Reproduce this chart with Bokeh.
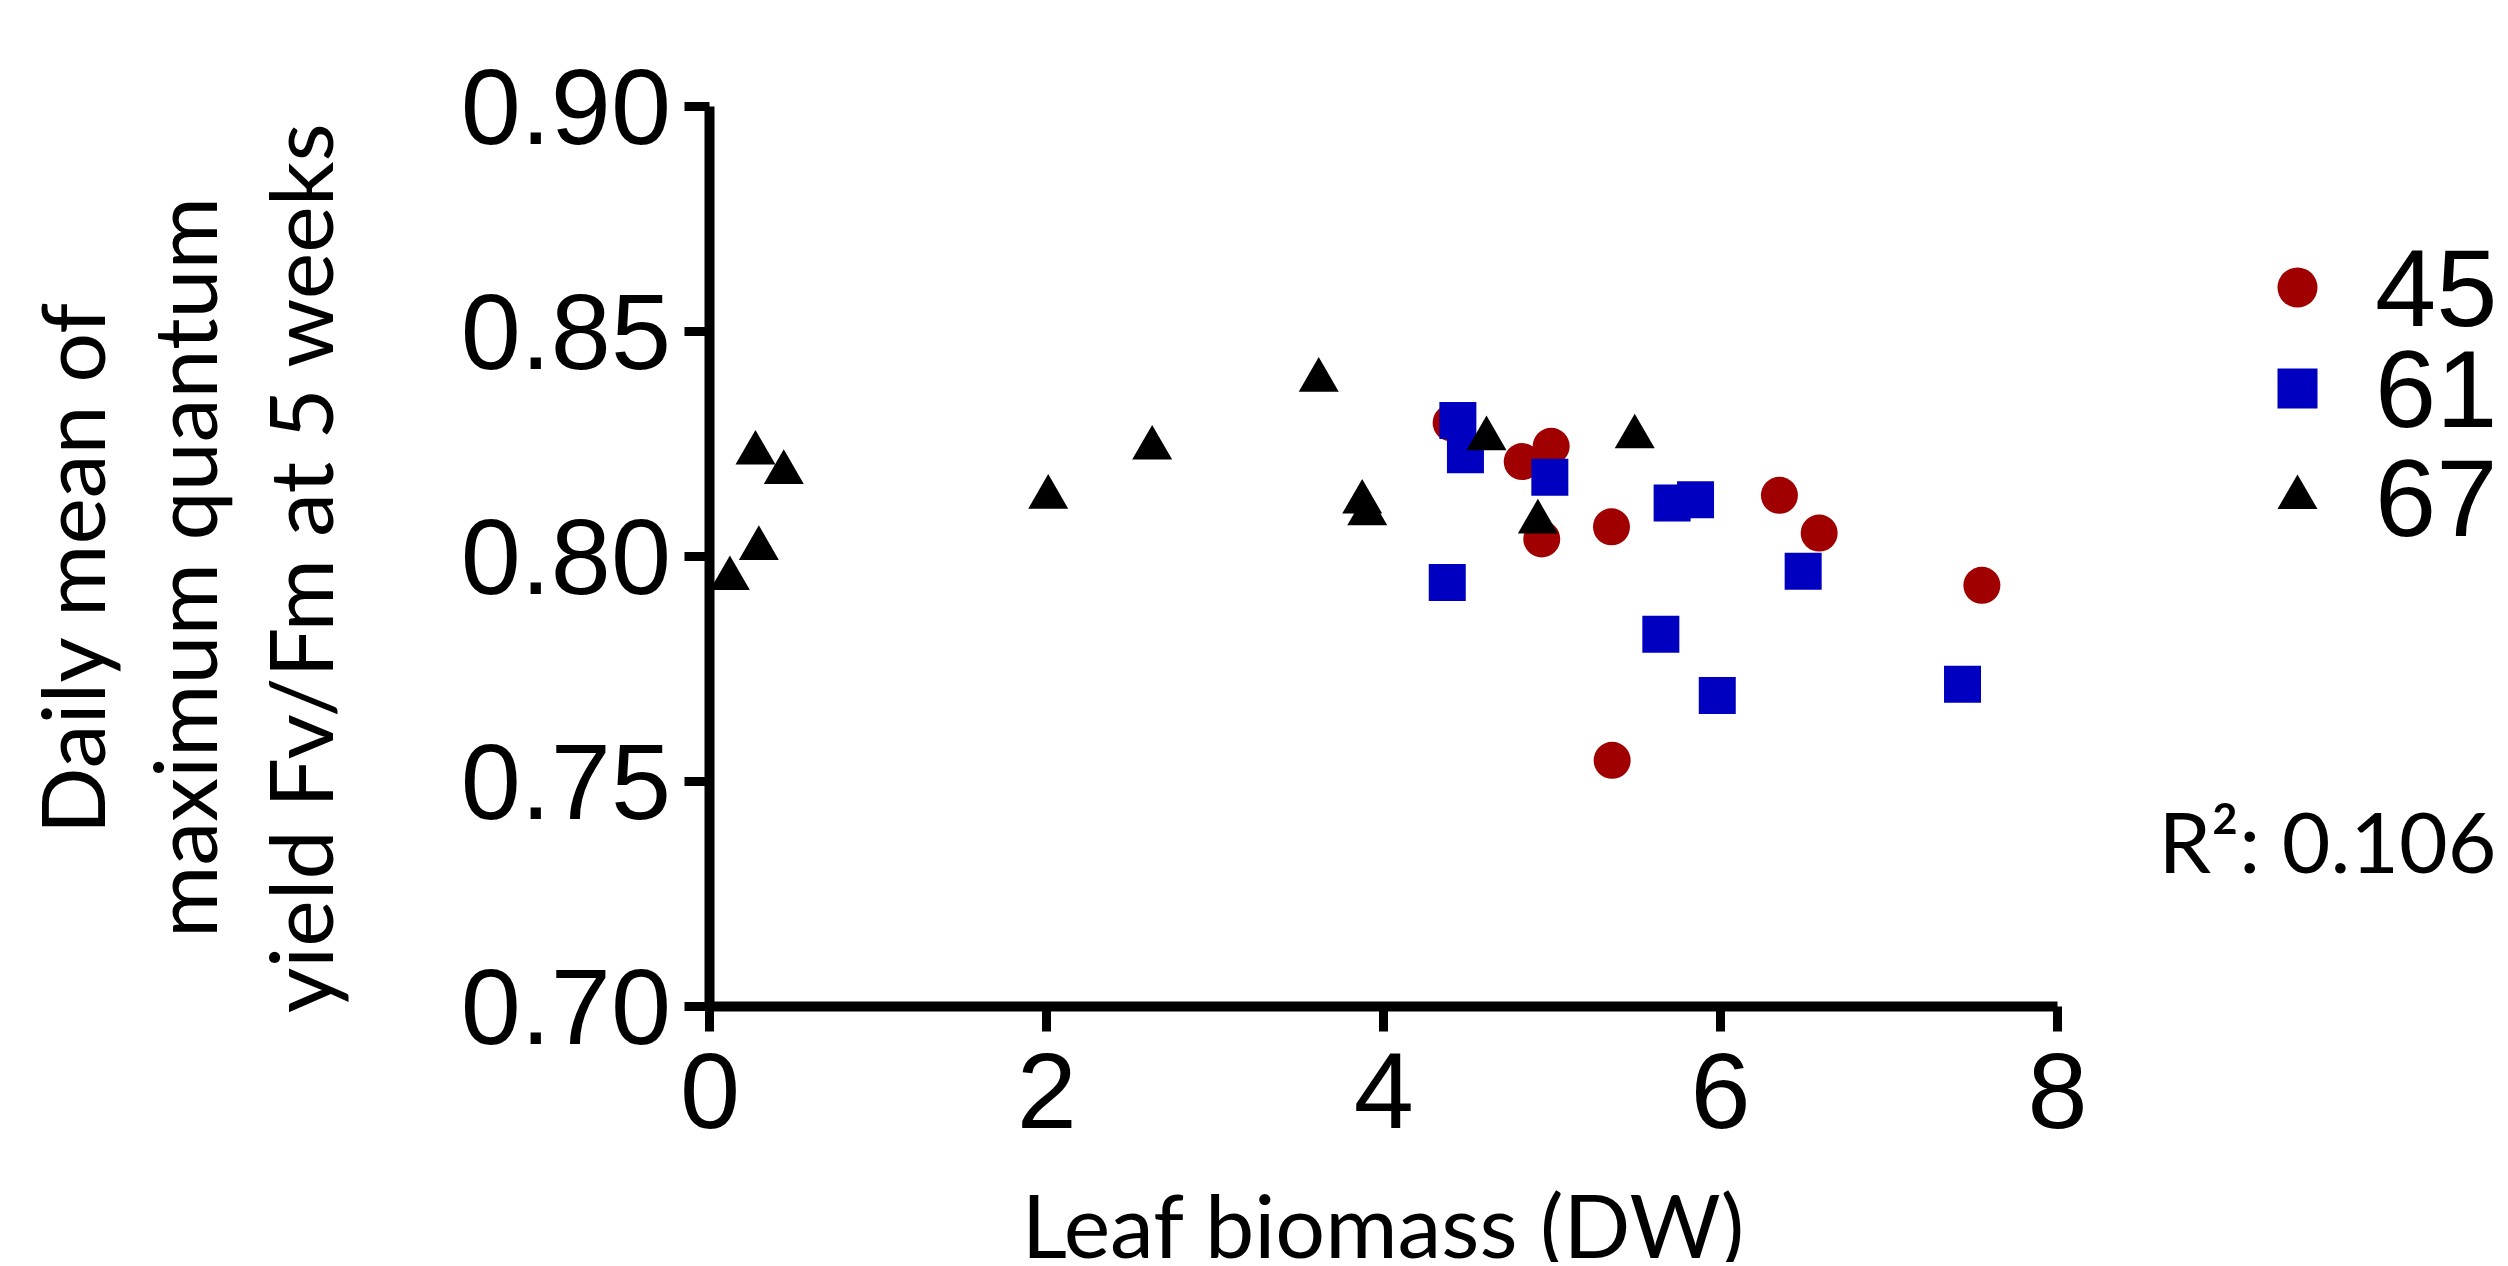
import math
from bokeh.plotting import figure
from bokeh.models import (Range1d, FixedTicker, NumeralTickFormatter, Label,
                          Legend, LegendItem, ColumnDataSource)
from bokeh.embed import file_html
from bokeh.resources import INLINE

# ---------------- data ----------------
x_ticks = [0, 2, 4, 6, 8]
y_ticks = [0.70, 0.75, 0.80, 0.85, 0.90]

series_names = ["45", "61", "67"]

g45_x = [4.400, 4.822, 4.994, 4.938, 5.352, 5.356, 6.349, 6.585, 7.551]
g45_y = [0.8297, 0.8211, 0.8245, 0.8039, 0.8066, 0.7547, 0.8136, 0.8052, 0.7936]

g61_x = [4.440, 4.485, 4.986, 5.712, 5.851, 4.377, 5.645, 6.490, 5.980, 7.436]
g61_y = [0.8302, 0.8226, 0.8176, 0.8119, 0.8126, 0.7942, 0.7827, 0.7967, 0.7691, 0.7716]

g67_x = [0.270, 0.438, 0.290, 0.118, 2.008, 2.625, 3.614, 3.872, 3.902, 4.610, 4.915, 5.490]
g67_y = [0.8230, 0.8187, 0.8018, 0.7951, 0.8132, 0.8241, 0.8392, 0.8121, 0.8095, 0.8262, 0.8077, 0.8266]

x_title = "Leaf biomass (DW)"
y_title_lines = ["Daily mean of", "maximum quantum", "yield Fv/Fm at 5 weeks"]
r2_text = "R\u00b2: 0.106"

# ---------------- figure ----------------
# The frame fills the whole canvas; the axes are pinned at x=0 / y=0.70 and
# bounded, so every title and note lies inside the frame.
p = figure(width=2504, height=1262, output_backend="svg", toolbar_location=None,
           x_range=Range1d(-4.2122, 10.6537), y_range=Range1d(0.64311, 0.92356),
           min_border=0)
p.title.visible = False
p.outline_line_color = None
p.grid.visible = False
p.background_fill_color = "white"
p.border_fill_color = "white"

for ax in (p.xaxis[0], p.yaxis[0]):
    ax.axis_line_width = 10
    ax.axis_line_color = "black"
    ax.major_tick_line_width = 9
    ax.major_tick_line_color = "black"
    ax.major_tick_out = 25
    ax.major_tick_in = 0
    ax.minor_tick_line_color = None
    ax.major_label_text_font = "Liberation Sans"
    ax.major_label_text_font_size = "108px"
    ax.major_label_text_color = "black"

p.xaxis.fixed_location = 0.70
p.yaxis.fixed_location = 0
p.xaxis.bounds = (0, 8)
p.yaxis.bounds = (0.70, 0.90)
p.xaxis.ticker = FixedTicker(ticks=x_ticks)
p.yaxis.ticker = FixedTicker(ticks=y_ticks)
p.yaxis.formatter = NumeralTickFormatter(format="0.00")
p.xaxis.major_label_standoff = 22
p.yaxis.major_label_standoff = 14

src45 = ColumnDataSource(dict(x=g45_x, y=g45_y))
src61 = ColumnDataSource(dict(x=g61_x, y=g61_y))
src67 = ColumnDataSource(dict(x=g67_x, y=g67_y))

r45 = p.scatter("x", "y", source=src45, marker="circle", size=37,
                fill_color="#A00000", line_color=None)
r61 = p.scatter("x", "y", source=src61, marker="square", size=37,
                fill_color="#0000C0", line_color=None)
r67 = p.scatter("x", "y", source=src67, marker="triangle", size=40,
                fill_color="black", line_color=None)

# legends (one per entry, stacked)
legend_bottoms = [910, 809, 700]
for name, rend, yb in zip(series_names, [r45, r61, r67], legend_bottoms):
    leg = Legend(items=[LegendItem(label=name, renderers=[rend])],
                 location=(2247, yb), orientation="vertical",
                 glyph_width=100, glyph_height=130, label_standoff=28,
                 padding=0, margin=0, spacing=0,
                 border_line_color=None, background_fill_alpha=0,
                 label_text_font="Liberation Sans", label_text_font_size="110px",
                 label_text_color="black", label_height=130)
    p.add_layout(leg)

# titles and note
p.add_layout(Label(x=4, y=0.65156, text=x_title, text_align="center",
                   text_baseline="middle", text_font="Lato",
                   text_font_size="88px", text_color="black"))

for xs, line in zip([-3.7966, -3.1258, -2.4430], y_title_lines):
    p.add_layout(Label(x=xs, y=0.79756, text=line, angle=math.pi / 2,
                       text_align="center", text_baseline="middle",
                       text_font="Lato", text_font_size="88px", text_color="black"))

p.add_layout(Label(x=8.5995, y=0.73678, text=r2_text, text_align="left",
                   text_baseline="middle", text_font="Lato",
                   text_font_size="84px", text_color="black"))

open("out.html", "w").write(file_html(p, INLINE))
